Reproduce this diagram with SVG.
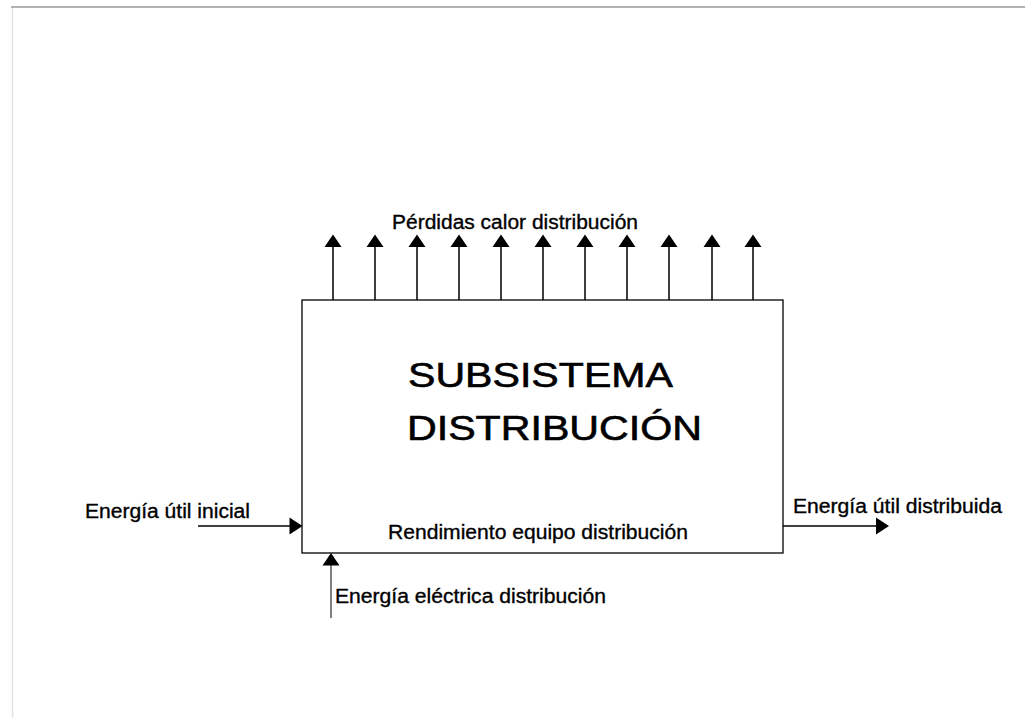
<svg xmlns="http://www.w3.org/2000/svg" width="1025" height="718" viewBox="0 0 1025 718">
<style>
text{font-family:"Liberation Sans",Arial,sans-serif;fill:#000;stroke:#000}
.lbl{font-size:20px;stroke-width:0.35}
.big{font-size:34.5px;stroke-width:0.6}
.ln{stroke:#000;stroke-width:1.5;fill:none}
.hd{fill:#000}
</style>
<rect x="0" y="0" width="1025" height="718" fill="#fff"/>
<line x1="11" y1="7" x2="1025" y2="7" stroke="#9a9a9a" stroke-width="1.5"/>
<line x1="12.5" y1="8" x2="12.5" y2="718" stroke="#e2e2e2" stroke-width="1.5"/>
<g id="subsistema">
<rect x="302" y="300" width="481" height="253" fill="#fff" stroke="#000" stroke-width="1.3"/>
<text class="big" x="408" y="387" textLength="265" lengthAdjust="spacingAndGlyphs">SUBSISTEMA</text>
<text class="big" x="407" y="440" textLength="295" lengthAdjust="spacingAndGlyphs">DISTRIBUCIÓN</text>
<text class="lbl" x="388" y="539" textLength="300" lengthAdjust="spacingAndGlyphs">Rendimiento equipo distribución</text>
</g>
<g id="connectors">
<g id="perdidas">
<path class="ln" d="M333 300V246M375 300V246M417 300V246M459 300V246M501 300V246M543 300V246M585 300V246M627 300V246M669 300V246M712 300V246M753 300V246"/>
<path class="hd" d="M333 234.5l8.5 12.5h-17zM375 234.5l8.5 12.5h-17zM417 234.5l8.5 12.5h-17zM459 234.5l8.5 12.5h-17zM501 234.5l8.5 12.5h-17zM543 234.5l8.5 12.5h-17zM585 234.5l8.5 12.5h-17zM627 234.5l8.5 12.5h-17zM669 234.5l8.5 12.5h-17zM712 234.5l8.5 12.5h-17zM753 234.5l8.5 12.5h-17z"/>
</g>
<g id="entrada">
<line class="ln" x1="198" y1="526" x2="291" y2="526"/>
<path class="hd" d="M302.5 526l-13 -8.5v17z"/>
</g>
<g id="salida">
<line class="ln" x1="783" y1="526" x2="877" y2="526"/>
<path class="hd" d="M889 526l-13 -8.5v17z"/>
</g>
<g id="electrica">
<line x1="331" y1="618" x2="331" y2="564" stroke="#555" stroke-width="1.5"/>
<path class="hd" d="M331 553l8.5 12.5h-17z"/>
</g>
</g>
<g id="labels">
<text class="lbl" x="392" y="229" textLength="246" lengthAdjust="spacingAndGlyphs">Pérdidas calor distribución</text>
<text class="lbl" x="85" y="518" textLength="165" lengthAdjust="spacingAndGlyphs">Energía útil inicial</text>
<text class="lbl" x="793" y="513" textLength="209" lengthAdjust="spacingAndGlyphs">Energía útil distribuida</text>
<text class="lbl" x="335" y="603" textLength="271" lengthAdjust="spacingAndGlyphs">Energía eléctrica distribución</text>
</g>
</svg>
